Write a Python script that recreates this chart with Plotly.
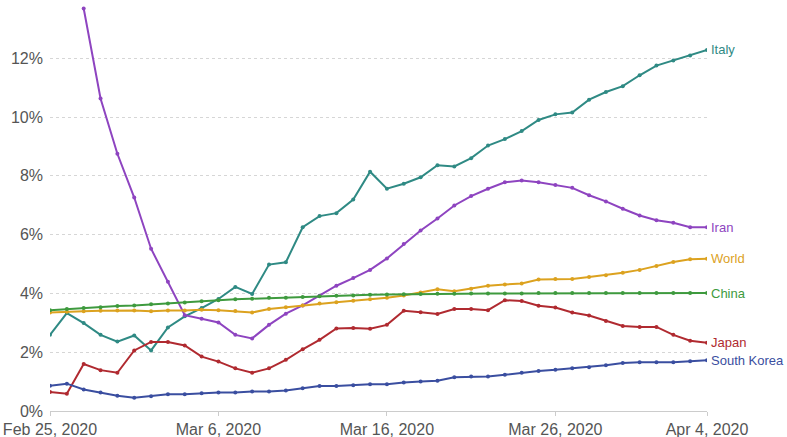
import pandas as pd
import plotly.graph_objects as go

dates = pd.date_range("2020-02-25", "2020-04-04", freq="D").strftime("%Y-%m-%d").tolist()

italy = [2.59, 3.33, 2.99, 2.59, 2.36, 2.57, 2.06, 2.84, 3.22, 3.50, 3.81, 4.22, 3.98,
         4.98, 5.06, 6.25, 6.63, 6.73, 7.19, 8.14, 7.56, 7.73, 7.95, 8.36, 8.32, 8.60,
         9.03, 9.25, 9.52, 9.90, 10.09, 10.15, 10.59, 10.85, 11.05, 11.42, 11.75, 11.92,
         12.09, 12.28]
iran = [13.69, 10.63, 8.75, 7.26, 5.52, 4.40, 3.26, 3.14, 3.01, 2.59, 2.47,
        2.93, 3.31, 3.59, 3.92, 4.26, 4.52, 4.80, 5.19, 5.68, 6.14, 6.55, 6.99, 7.31,
        7.56, 7.78, 7.84, 7.78, 7.69, 7.59, 7.34, 7.13, 6.88, 6.65, 6.49, 6.40, 6.25, 6.25]
world = [3.35, 3.38, 3.39, 3.41, 3.42, 3.42, 3.39, 3.42, 3.42, 3.44, 3.43, 3.40, 3.35,
         3.47, 3.53, 3.59, 3.66, 3.70, 3.75, 3.80, 3.85, 3.93, 4.03, 4.14, 4.07, 4.16,
         4.26, 4.30, 4.34, 4.47, 4.49, 4.49, 4.56, 4.62, 4.70, 4.80, 4.93, 5.07, 5.16, 5.18]
china = [3.43, 3.47, 3.50, 3.53, 3.57, 3.59, 3.63, 3.66, 3.69, 3.73, 3.77, 3.80, 3.82,
         3.85, 3.85, 3.88, 3.90, 3.92, 3.93, 3.95, 3.96, 3.97, 3.98, 3.99, 3.99, 4.00,
         4.00, 4.00, 4.00, 4.01, 4.01, 4.01, 4.01, 4.01, 4.01, 4.01, 4.01, 4.01, 4.01, 4.01]
japan = [0.65, 0.59, 1.60, 1.39, 1.30, 2.06, 2.35, 2.35, 2.23, 1.85, 1.68, 1.45, 1.30,
         1.45, 1.74, 2.10, 2.42, 2.81, 2.82, 2.80, 2.93, 3.41, 3.36, 3.30, 3.47, 3.47,
         3.43, 3.77, 3.74, 3.58, 3.52, 3.35, 3.25, 3.06, 2.89, 2.86, 2.86, 2.59, 2.39, 2.32]
south_korea = [0.86, 0.93, 0.73, 0.63, 0.52, 0.45, 0.50, 0.57, 0.57, 0.60, 0.63, 0.63, 0.66,
               0.66, 0.70, 0.77, 0.85, 0.85, 0.88, 0.91, 0.91, 0.97, 1.00, 1.03, 1.15, 1.17,
               1.17, 1.23, 1.30, 1.36, 1.40, 1.45, 1.49, 1.56, 1.63, 1.66, 1.66, 1.66, 1.69, 1.73]

series = [
    ("Italy", dates, italy, "#2f8a84"),
    ("Iran", dates[2:], iran, "#8e44c0"),
    ("World", dates, world, "#dca21f"),
    ("China", dates, china, "#3e9a3e"),
    ("Japan", dates, japan, "#b02a30"),
    ("South Korea", dates, south_korea, "#3a4ea0"),
]

tick_vals = ["2020-02-25", "2020-03-06", "2020-03-16", "2020-03-26", "2020-04-04"]
tick_text = ["Feb 25, 2020", "Mar 6, 2020", "Mar 16, 2020", "Mar 26, 2020", "Apr 4, 2020"]
y_ticks = [0, 2, 4, 6, 8, 10, 12]
y_text = ["0%", "2%", "4%", "6%", "8%", "10%", "12%"]

FONT = "Liberation Sans, Arial, sans-serif"

fig = go.Figure()
for name, xs, ys, color in series:
    fig.add_trace(go.Scatter(
        x=xs, y=ys, mode="lines+markers", name=name,
        line=dict(color=color, width=2),
        marker=dict(color=color, size=4),
        showlegend=False, hoverinfo="skip",
    ))
    fig.add_annotation(
        x=xs[-1], y=ys[-1], text=name, showarrow=False,
        xanchor="left", yanchor="middle", xshift=2,
        font=dict(color=color, size=13, family=FONT),
    )

fig.update_layout(
    width=787, height=437,
    margin=dict(l=50, r=80, t=0, b=26, autoexpand=False),
    paper_bgcolor="white", plot_bgcolor="white",
    font=dict(family=FONT, size=16, color="#555555"),
)
fig.update_xaxes(
    type="date", range=["2020-02-25", "2020-04-04"],
    tickvals=tick_vals, ticktext=tick_text,
    showgrid=False, showline=True, linecolor="#cccccc", linewidth=1,
    ticks="outside", ticklen=4, tickcolor="#cccccc",
    zeroline=False, tickfont=dict(size=16, color="#555555"),
)
fig.update_yaxes(
    range=[0, 13.98], tickvals=y_ticks, ticktext=y_text,
    showgrid=True, gridcolor="#d6d6d6", griddash="dot", gridwidth=1,
    zeroline=False, showline=False, ticks="", ticklabelstandoff=6,
    tickfont=dict(size=16, color="#555555"),
)

fig.write_html(
    "out.html",
    config={"displayModeBar": False},
    post_script="document.body.style.margin='0px';document.body.style.overflow='hidden';",
)
